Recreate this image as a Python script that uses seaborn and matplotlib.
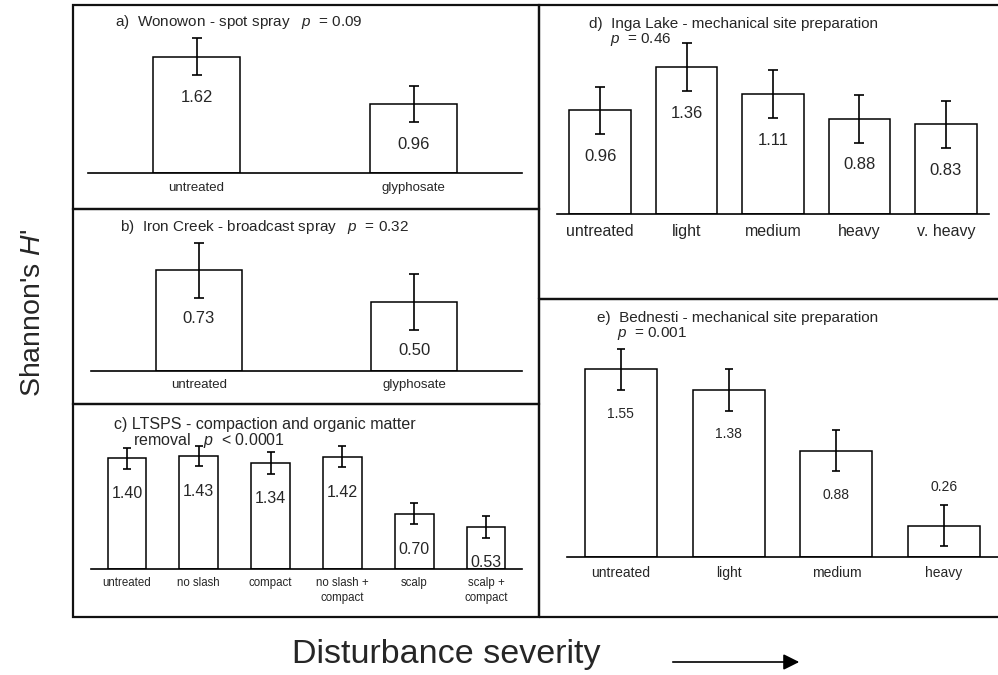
import numpy as np
import pandas as pd
import matplotlib
matplotlib.use('Agg')
import matplotlib.pyplot as plt
import seaborn as sns
from matplotlib.patches import Rectangle, FancyArrowPatch

# values (mean H' and error bar half-widths)
a_cats = ['untreated', 'glyphosate']
a_vals = [1.62, 0.96]
a_err = [0.26, 0.25]

b_cats = ['untreated', 'glyphosate']
b_vals = [0.73, 0.50]
b_err = [0.20, 0.20]

c_cats = ['untreated', 'no slash', 'compact', 'no slash +\ncompact', 'scalp', 'scalp +\ncompact']
c_vals = [1.40, 1.43, 1.34, 1.42, 0.70, 0.53]
c_err = [0.13, 0.13, 0.135, 0.135, 0.135, 0.135]

d_cats = ['untreated', 'light', 'medium', 'heavy', 'v. heavy']
d_vals = [0.96, 1.36, 1.11, 0.88, 0.83]
d_err = [0.22, 0.22, 0.22, 0.22, 0.22]

e_cats = ['untreated', 'light', 'medium', 'heavy']
e_vals = [1.55, 1.38, 0.88, 0.26]
e_err = [0.17, 0.17, 0.17, 0.17]

sns.set_style('white')
plt.rcParams['font.family'] = ['Liberation Sans', 'DejaVu Sans']
plt.rcParams['mathtext.fontset'] = 'custom'
plt.rcParams['mathtext.rm'] = 'Liberation Sans'
plt.rcParams['mathtext.it'] = 'Liberation Sans:italic'

W, H = 998, 675
fig = plt.figure(figsize=(W / 100, H / 100), dpi=100)
fig.patch.set_facecolor('white')


def fx(x):
    return x / W


def fy(y):
    return 1 - y / H


def panel(cats, vals, errs, box, ytop, scale, width, tick_fs, val_fs, pad, gap, cap):
    l, r, b = box
    t = b - ytop * scale
    ax = fig.add_axes([fx(l), fy(b), fx(r - l), (b - t) / H])
    df = pd.DataFrame({'cat': cats, 'val': vals})
    sns.barplot(data=df, x='cat', y='val', ax=ax, color='white', saturation=1,
                edgecolor='black', linewidth=1.1, width=width, errorbar=None)
    x = np.arange(len(cats))
    ax.errorbar(x, vals, yerr=errs, fmt='none', ecolor='black',
                elinewidth=1.2, capsize=cap, capthick=1.2)
    n = len(cats)
    ax.set_xlim(-0.5, n - 0.5)
    ax.set_ylim(0, ytop)
    ax.set_facecolor('none')
    for s in ['top', 'left', 'right']:
        ax.spines[s].set_visible(False)
    ax.spines['bottom'].set_color('black')
    ax.spines['bottom'].set_linewidth(1.2)
    ax.set_yticks([])
    ax.set_xlabel('')
    ax.set_ylabel('')
    ax.set_xticks(np.arange(n + 1) - 0.5)
    ax.set_xticklabels([])
    ax.set_xticks(x, minor=True)
    ax.set_xticklabels(cats, minor=True)
    ax.tick_params(axis='x', which='major', length=4, width=1, direction='out', color='black')
    ax.tick_params(axis='x', which='minor', length=0, pad=pad, labelsize=tick_fs)
    for lab in ax.get_xticklabels(minor=True):
        lab.set_linespacing(1.3)
    gap_px = gap * 100 / 72
    for i, (v, e) in enumerate(zip(vals, errs)):
        if (v - e) * scale < gap_px:
            ax.annotate(f'{v:.2f}', (i, v + e), xytext=(0, gap * 0.75),
                        textcoords='offset points', ha='center', va='center', fontsize=val_fs)
        else:
            ax.annotate(f'{v:.2f}', (i, v - e), xytext=(0, -gap),
                        textcoords='offset points', ha='center', va='center', fontsize=val_fs)
    return ax


panel(a_cats, a_vals, a_err, (88, 522, 173), 2.0, 71.7, 0.40, 9.5, 12, 6.5, 16, 3.6)
panel(b_cats, b_vals, b_err, (91, 522, 371), 1.0, 138, 0.40, 9.5, 12, 6, 15, 3.6)
panel(c_cats, c_vals, c_err, (91, 522, 569), 1.7, 79, 0.54, 8.3, 11.5, 6, 18, 2.8)
panel(d_cats, d_vals, d_err, (557, 989, 214), 1.65, 108, 0.714, 11.5, 12, 7, 16, 3.6)
panel(e_cats, e_vals, e_err, (567, 998, 557), 1.85, 121, 0.666, 10, 10, 6.5, 17, 2.8)

# panel frames
for (x0, y0, x1, y1) in [(73, 5, 539, 209), (73, 209, 539, 404), (73, 404, 539, 617),
                         (539, 5, 1010, 299), (539, 299, 1010, 617)]:
    fig.add_artist(Rectangle((fx(x0), fy(y1)), fx(x1 - x0), (y1 - y0) / H,
                             transform=fig.transFigure, fill=False,
                             edgecolor='#111111', linewidth=1.6))

# panel titles
fig.text(fx(115), fy(22), 'a)  Wonowon - spot spray   $p$  = 0.09', fontsize=11, va='center')
fig.text(fx(120), fy(227), 'b)  Iron Creek - broadcast spray   $p$  = 0.32', fontsize=11, va='center')
fig.text(fx(114), fy(425), 'c) LTSPS - compaction and organic matter', fontsize=11.5, va='center')
fig.text(fx(133), fy(441), 'removal   $p$  < 0.0001', fontsize=11.5, va='center')
fig.text(fx(589), fy(24), 'd)  Inga Lake - mechanical site preparation', fontsize=11, va='center')
fig.text(fx(610), fy(40), '$p$  = 0.46', fontsize=11, va='center')
fig.text(fx(597), fy(318), 'e)  Bednesti - mechanical site preparation', fontsize=11, va='center')
fig.text(fx(617), fy(334), '$p$  = 0.001', fontsize=11, va='center')

# shared axis labels
fig.text(fx(33), fy(313), "Shannon's $H$'", rotation=90, fontsize=20.5, ha='center', va='center')
fig.text(fx(292), fy(655), 'Disturbance severity', fontsize=24.5, ha='left', va='center')
fig.add_artist(FancyArrowPatch((fx(670), fy(662)), (fx(802), fy(662)), transform=fig.transFigure,
                               arrowstyle='-|>,head_length=0.6,head_width=0.3', mutation_scale=16,
                               color='black', linewidth=1.2))

plt.savefig('out.png', dpi=100)
